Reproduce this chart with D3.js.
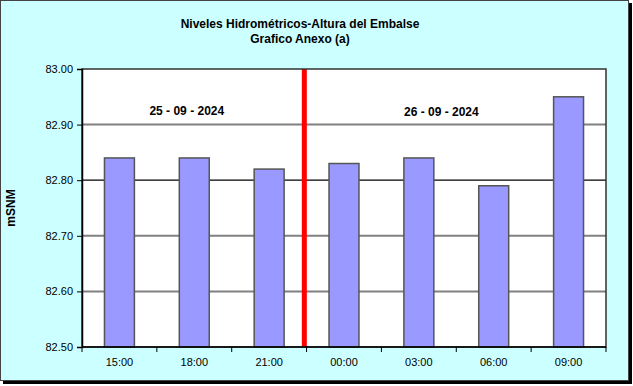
<!DOCTYPE html>
<html>
<head>
<meta charset="utf-8">
<script src="https://cdn.jsdelivr.net/npm/d3@7"></script>
<style>
  body { margin: 0; background: #fff; }
  text { font-family: Arial, "Liberation Sans", sans-serif; }
</style>
</head>
<body>
<div id="chart"></div>
<script>
// Data
var hours = ["15:00", "18:00", "21:00", "00:00", "03:00", "06:00", "09:00"];
var levels = [82.84, 82.84, 82.82, 82.83, 82.84, 82.79, 82.95];
var yTicks = [82.5, 82.6, 82.7, 82.8, 82.9, 83.0];
var dayLabels = ["25 - 09 - 2024", "26 - 09 - 2024"];
// day labels sit over these category positions (in category units)
var dayLabelPos = [1.4, 4.8];
// red divider between the two days (category units)
var dividerPos = 2.97;

var svgWidth = 633;
var svgHeight = 386;
var margin = { top: 69, right: 27, bottom: 39, left: 82 };
var plotW = svgWidth - margin.left - margin.right;
var plotH = svgHeight - margin.top - margin.bottom;

var svg = d3.select("#chart")
  .append("svg")
    .attr("width", svgWidth)
    .attr("height", svgHeight);

// outer frame with shadow
svg.append("rect")
  .attr("x", 3).attr("y", 3)
  .attr("width", 629).attr("height", 381)
  .attr("fill", "#000");
svg.append("rect")
  .attr("x", 0.5).attr("y", 0.5)
  .attr("width", 628).attr("height", 380)
  .attr("fill", "#CCFFFF")
  .attr("stroke", "#444");

var g = svg.append("g")
  .attr("transform", "translate(" + margin.left + "," + margin.top + ")");

var x = d3.scaleBand()
  .domain(hours)
  .range([0, plotW])
  .paddingInner(0.6)
  .paddingOuter(0.3);

var xPos = d3.scaleLinear()
  .domain([0, hours.length])
  .range([0, plotW]);

var y = d3.scaleLinear()
  .domain([82.5, 83.0])
  .range([plotH, 0]);

// plot background
g.append("rect")
  .attr("width", plotW)
  .attr("height", plotH)
  .attr("fill", "#fff");

// gridlines
g.selectAll(".grid")
  .data(yTicks.slice(1, -1))
  .enter()
  .append("line")
  .attr("x1", 0).attr("x2", plotW)
  .attr("y1", function(d) { return y(d); })
  .attr("y2", function(d) { return y(d); })
  .attr("stroke", function(d) { return Math.abs(d - 82.8) < 1e-6 ? "#000" : "#808080"; })
  .attr("stroke-width", function(d) { return Math.abs(d - 82.8) < 1e-6 ? 1.2 : 2; });

// bars
g.selectAll(".bar")
  .data(levels)
  .enter()
  .append("rect")
  .attr("class", "bar")
  .attr("x", function(d, i) { return x(hours[i]); })
  .attr("y", function(d) { return y(d); })
  .attr("width", x.bandwidth())
  .attr("height", function(d) { return plotH - y(d); })
  .attr("fill", "#9999FF")
  .attr("stroke", "#555")
  .attr("stroke-width", 1.5);

// red divider
g.append("line")
  .attr("x1", xPos(dividerPos)).attr("x2", xPos(dividerPos))
  .attr("y1", 0).attr("y2", plotH)
  .attr("stroke", "#FF0000")
  .attr("stroke-width", 5);

// plot frame
g.append("rect")
  .attr("width", plotW)
  .attr("height", plotH)
  .attr("fill", "none")
  .attr("stroke", "#333")
  .attr("stroke-width", 1.5);

// day labels
g.selectAll(".day")
  .data(dayLabels)
  .enter()
  .append("text")
  .attr("x", function(d, i) { return xPos(dayLabelPos[i]); })
  .attr("y", function(d, i) { return 46 + i; })
  .attr("text-anchor", "middle")
  .attr("font-size", "12px")
  .attr("font-weight", "bold")
  .text(function(d) { return d; });

// y axis
var yAxis = g.append("g")
  .call(d3.axisLeft(y)
    .tickValues(yTicks)
    .tickSize(5)
    .tickFormat(d3.format(".2f")));
yAxis.select(".domain").attr("stroke", "#000").attr("stroke-width", 1.5);
yAxis.selectAll(".tick line").attr("stroke", "#000");
yAxis.selectAll("text")
  .attr("font-size", "11px")
  .attr("font-family", "Arial, 'Liberation Sans', sans-serif")
  .attr("fill", "#000")
  .attr("x", -9);

// x axis: ticks at category boundaries, labels at centres
var xAxis = g.append("g")
  .attr("transform", "translate(0," + plotH + ")");
xAxis.append("line")
  .attr("x1", 0).attr("x2", plotW)
  .attr("stroke", "#000").attr("stroke-width", 1.5);
xAxis.selectAll(".xtick")
  .data(d3.range(hours.length + 1))
  .enter()
  .append("line")
  .attr("x1", function(d) { return xPos(d); })
  .attr("x2", function(d) { return xPos(d); })
  .attr("y1", 0).attr("y2", 5)
  .attr("stroke", "#000");
xAxis.selectAll(".xlabel")
  .data(hours)
  .enter()
  .append("text")
  .attr("x", function(d) { return x(d) + x.bandwidth() / 2; })
  .attr("y", 19)
  .attr("text-anchor", "middle")
  .attr("font-size", "11px")
  .text(function(d) { return d; });

// titles
svg.append("text")
  .attr("x", 300).attr("y", 28)
  .attr("text-anchor", "middle")
  .attr("font-size", "12px")
  .attr("font-weight", "bold")
  .text("Niveles Hidrométricos-Altura del Embalse");
svg.append("text")
  .attr("x", 300).attr("y", 43)
  .attr("text-anchor", "middle")
  .attr("font-size", "12px")
  .attr("font-weight", "bold")
  .text("Grafico Anexo (a)");

// y label
svg.append("text")
  .attr("transform", "translate(14.5," + (margin.top + plotH / 2) + ") rotate(-90)")
  .attr("text-anchor", "middle")
  .attr("font-size", "12px")
  .attr("font-weight", "bold")
  .text("mSNM");
</script>
</body>
</html>
